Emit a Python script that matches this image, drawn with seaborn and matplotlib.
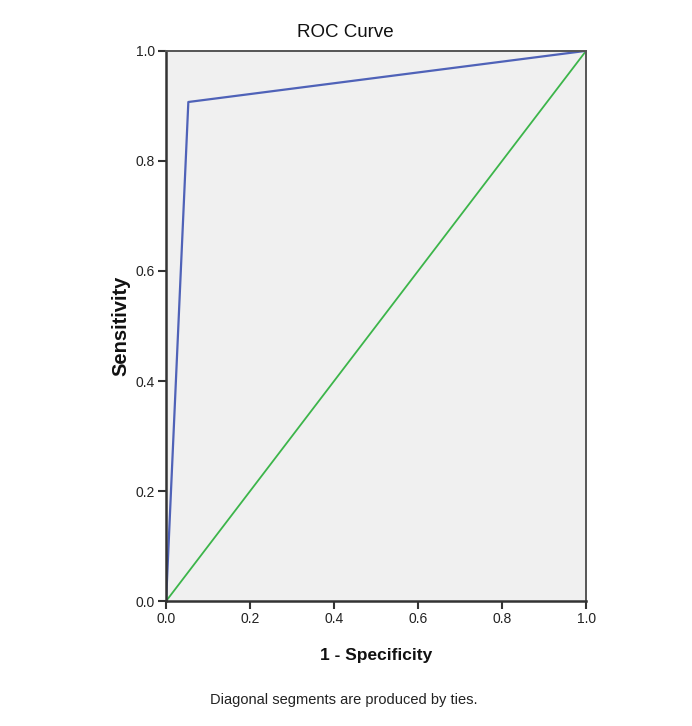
import matplotlib
matplotlib.use("Agg")
import matplotlib.pyplot as plt
import seaborn as sns
import pandas as pd

# ROC points
fpr = [0.0, 0.053, 1.0]
tpr = [0.0, 0.907, 1.0]
ref_x = [0.0, 1.0]
ref_y = [0.0, 1.0]
ticks = [0.0, 0.2, 0.4, 0.6, 0.8, 1.0]
tick_labels = ["0.0", "0.2", "0.4", "0.6", "0.8", "1.0"]

sns.set_style("white")
plt.rcParams['font.family'] = ['Liberation Sans', 'DejaVu Sans']

fig = plt.figure(figsize=(6.92, 7.26), dpi=100)
ax = fig.add_axes([0.240, 0.172, 0.607, 0.758])
ax.set_facecolor('#f0f0f0')

roc = pd.DataFrame({'x': fpr, 'y': tpr})
ref = pd.DataFrame({'x': ref_x, 'y': ref_y})
sns.lineplot(data=ref, x='x', y='y', color='#3cb54a', linewidth=1.3, ax=ax, sort=False)
sns.lineplot(data=roc, x='x', y='y', color='#4f62b8', linewidth=1.6, ax=ax, sort=False)

ax.set_xlim(0, 1)
ax.set_ylim(0, 1)
ax.set_xticks(ticks)
ax.set_yticks(ticks)
ax.set_xticklabels(tick_labels)
ax.set_yticklabels(tick_labels)
ax.tick_params(axis='both', bottom=True, left=True, direction='out', length=6, width=1.5,
               color='#333333', labelsize=10, labelcolor='#222222', pad=2)

for side in ['left', 'bottom']:
    ax.spines[side].set_color('#333333')
    ax.spines[side].set_linewidth(1.8)
for side in ['top', 'right']:
    ax.spines[side].set_color('#555555')
    ax.spines[side].set_linewidth(1.4)

ax.set_xlabel('1 - Specificity', fontsize=12.5, fontweight='bold', color='#111111', labelpad=16)
ax.set_ylabel('Sensitivity', fontsize=14.5, fontweight='bold', color='#111111', labelpad=4)

fig.text(0.499, 0.955, 'ROC Curve', ha='center', va='center', fontsize=13.5, color='#111111')
fig.text(0.497, 0.036, 'Diagonal segments are produced by ties.', ha='center', va='center',
         fontsize=10.5, color='#222222')

fig.savefig('out.png', dpi=100)
